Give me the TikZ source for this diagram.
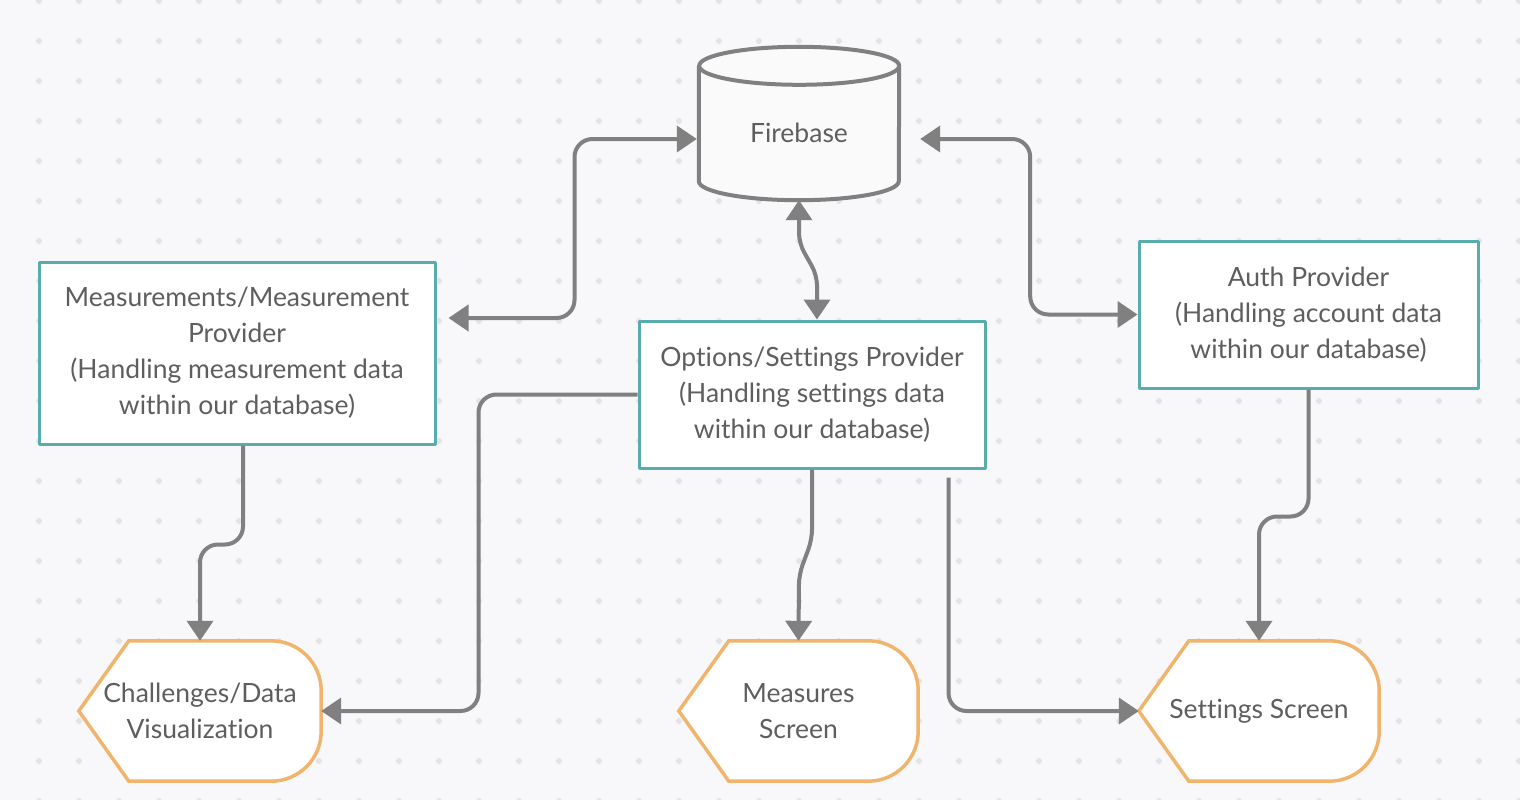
\documentclass[tikz,border=0pt]{standalone}
\usepackage{fontspec}
\setmainfont{Lato}[Ligatures=NoCommon]
\usetikzlibrary{arrows.meta,calc}
\pgfdeclarelayer{back}
\pgfsetlayers{back,main}

\begin{document}
\begin{tikzpicture}[x=1pt,y=1pt,line join=round]
  % Styles
  \tikzset{
    provider/.style={draw=tealline, line width=3pt, fill=white, align=center,
      minimum height=147pt, inner sep=0pt, text=txtclr, font=\fontsize{26.5}{36}\selectfont},
    screen/.style={minimum width=240pt, minimum height=140pt, inner sep=0pt,
      align=center, text=txtclr, font=\fontsize{26.5}{36}\selectfont},
    screenline/.style={draw=orangeline, line width=3.5pt, fill=white},
    store/.style={minimum width=200pt, minimum height=134pt, inner sep=0pt,
      text=txtclr, font=\fontsize{26.5}{36}\selectfont},
    link/.style={draw=linkclr, line width=4pt, rounded corners=18pt},
    oneway/.style={-{Triangle[length=20pt,width=26pt]}},
    twoway/.style={{Triangle[length=20pt,width=26pt]}-{Triangle[length=20pt,width=26pt]}}
  }

  % Colors
  \definecolor{bgclr}{HTML}{F8F8FA}
  \definecolor{dotclr}{HTML}{E4E4E8}
  \definecolor{tealline}{HTML}{58ACAC}
  \definecolor{orangeline}{HTML}{F0B46C}
  \definecolor{linkclr}{HTML}{808080}
  \definecolor{txtclr}{HTML}{5E5E5E}
  \definecolor{cylfill}{HTML}{FAFAFA}

  \useasboundingbox (0,0) rectangle (1520,-800);

  % Dotted canvas
  \begin{pgfonlayer}{back}
    \fill[bgclr] (0,0) rectangle (1520,-800);
    \foreach \x in {39,79,...,1519}
      \foreach \y in {1,41,...,801}
        \fill[dotclr] (\x,-\y) circle (3);
  \end{pgfonlayer}

  % Providers
  \node[provider, minimum width=396pt, minimum height=182pt] (mmp) at (237,-353)
    {Measurements/Measurement\\Provider\\(Handling measurement data\\within our database)};
  \node[provider, minimum width=346pt] (opt) at (812,-394.5)
    {Options/Settings Provider\\(Handling settings data\\within our database)};
  \node[provider, minimum width=339pt] (auth) at (1308.5,-314.5)
    {Auth Provider\\(Handling account data\\within our database)};

  % Database
  \node[store] (fb) at (799,-133) {Firebase};

  % Screens
  \node[screen, minimum width=242pt] (chal) at (200,-711) {Challenges/Data\\Visualization};
  \node[screen, minimum width=239pt] (mscr) at (798.5,-711) {Measures\\Screen};
  \node[screen] (sscr) at (1259,-711) {Settings Screen};

  % Outlines behind the texts
  \begin{pgfonlayer}{back}
    \draw[linkclr, line width=4pt, fill=cylfill] (fb.north west)
      -- ($(fb.south west)+(0,19)$) arc[start angle=180, end angle=360, x radius=100, y radius=19]
      -- (fb.north east) arc[start angle=0, end angle=360, x radius=100, y radius=19];
    \foreach \s in {chal,mscr,sscr}
      \draw[screenline] (\s.west) -- ($(\s.north west)+(50,0)$) [rounded corners=50pt]
        -- (\s.north east) -- (\s.south east) [sharp corners]
        -- ($(\s.south west)+(50,0)$) -- cycle;
  \end{pgfonlayer}

  % Links to the database
  \draw[link, twoway] ($(mmp.east)+(12,35)$) -- ++(126,0) |- ($(fb.west)+(-2,-6)$);
  \draw[link, twoway, rounded corners=10pt] (fb.south) -- ++(0,-43) -- ++(18,-32)
    -- ($(opt.north)+(5,0)$);
  \draw[link, twoway] ($(fb.east)+(21,-6)$) -- ++(110,0) |- (auth.west);

  % Links to the screens
  \draw[link, oneway] ([xshift=6pt]mmp.south) -- ++(0,-99) -| (chal.north);
  \draw[link, oneway] (opt.west) -- ++(-159,0) |- (chal.east);
  \draw[link, oneway, rounded corners=10pt] (opt.south) -- ++(0,-70) -- ++(-13,-35)
    -- (mscr.north);
  \draw[link, oneway] ($(opt.south east)+(-38,-8)$) |- (sscr.west);
  \draw[link, oneway] (auth.south) -- ++(0,-127) -| (sscr.north);
\end{tikzpicture}
\end{document}
